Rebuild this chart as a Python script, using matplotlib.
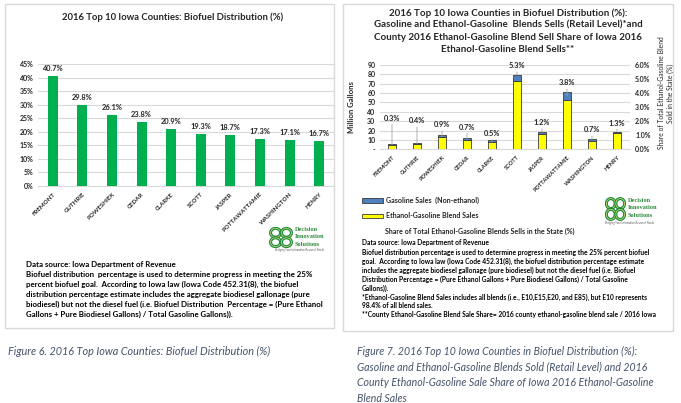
import matplotlib
matplotlib.use('Agg')
import matplotlib.pyplot as plt
from matplotlib.patches import Rectangle, Circle
import numpy as np

W, H = 681, 403

# ---------------- data ----------------
counties = ["FREMONT", "GUTHRIE", "POWESHIEK", "CEDAR", "CLARKE", "SCOTT",
            "JASPER", "POTTAWATTAMIE", "WASHINGTON", "HENRY"]
biofuel_pct = [40.7, 29.8, 26.1, 23.8, 20.9, 19.3, 18.7, 17.3, 17.1, 16.7]
left_yticks = [0, 5, 10, 15, 20, 25, 30, 35, 40, 45]

blend_sales = [4.4, 5.4, 13.0, 9.6, 7.3, 73.2, 16.3, 52.5, 9.3, 16.9]      # million gallons
gasoline_sales = [1.1, 1.0, 1.9, 2.5, 2.2, 6.4, 2.5, 8.7, 2.0, 1.9]       # million gallons
blend_share = [0.3, 0.4, 0.9, 0.7, 0.5, 5.3, 1.2, 3.8, 0.7, 1.3]           # percent
gal_ticks = [0, 10, 20, 30, 40, 50, 60, 70, 80, 90]
gal_ticklabels = ["-", "10", "20", "30", "40", "50", "60", "70", "80", "90"]
share_ticks = [0, 1, 2, 3, 4, 5, 6]

# layout: label offsets (pixels above the share point)
share_label_offset = [27, 23, 12, 12, 9, 9, 10, 13, 9.5, 8]

FONT = 'Lato'
TXT = '#262626'
plt.rcParams['font.family'] = [FONT, 'DejaVu Sans']


def fx(x):
    return x / W


def fy(y):
    return 1 - y / H


fig = plt.figure(figsize=(W / 100, H / 100), dpi=100)

# panel borders
for (x0, y0, x1, y1) in [(5, 4, 334, 328), (343, 4, 673, 331)]:
    fig.patches.append(Rectangle((fx(x0), fy(y1)), (x1 - x0) / W, (y1 - y0) / H,
                                 transform=fig.transFigure, fill=False,
                                 ec='#d9d9d9', lw=1.0))

# ---------------- left chart ----------------
ax1 = fig.add_axes([fx(38), fy(186), 296 / W, 121.7 / H])
x = np.arange(len(counties))
ax1.bar(x, biofuel_pct, width=0.34, color='#00b050', zorder=3)
ax1.set_xlim(-0.5, len(counties) - 0.5)
ax1.set_ylim(0, 45)
ax1.set_yticks(left_yticks)
ax1.set_yticklabels([f"{v}%" for v in left_yticks], fontsize=5, fontweight='bold', color=TXT)
ax1.yaxis.grid(True, color='#d9d9d9', lw=0.8, zorder=0)
ax1.set_axisbelow(True)
for s in ['top', 'right', 'left']:
    ax1.spines[s].set_visible(False)
ax1.spines['bottom'].set_color('#d9d9d9')
ax1.tick_params(length=0, pad=3)
ax1.set_xticks(x)
ax1.set_xticklabels(counties, rotation=45, ha='right', rotation_mode='anchor',
                    fontsize=4.4, fontweight='bold', color=TXT)
ax1.tick_params(axis='x', pad=4)
for i, v in enumerate(biofuel_pct):
    ax1.annotate(f"{v}%", (i, v), xytext=(0, 7.6), textcoords='offset pixels',
                 ha='center', va='center', fontsize=5.4, fontweight='bold', color=TXT)
fig.text(fx(172.5), fy(17), "2016 Top 10 Iowa Counties: Biofuel Distribution (%)",
         ha='center', va='center', fontsize=6.8, fontweight='bold', color=TXT)

left_notes = [
    "Data source: Iowa Department of Revenue",
    "Biofuel distribution  percentage is used to determine progress in meeting the 25%",
    "percent biofuel goal.  According to Iowa law (Iowa Code 452.31(8), the biofuel",
    "distribution percentage estimate includes the aggregate biodiesel gallonage (pure",
    "biodiesel) but not the diesel fuel (i.e. Biofuel Distribution  Percentage = (Pure Ethanol",
    "Gallons + Pure Biodiesel Gallons) / Total Gasoline Gallons)).",
]
for k, line in enumerate(left_notes):
    fig.text(fx(26), fy(264 + 10 * k), line, ha='left', va='center',
             fontsize=5.65, fontweight='bold', color='#000000')

# ---------------- right chart ----------------
ax2 = fig.add_axes([fx(379.5), fy(149.3), 250 / W, 84.3 / H])
ax2.bar(x, blend_sales, width=0.33, color='#ffff00', edgecolor='#3a3a3a', lw=0.6, zorder=3)
ax2.bar(x, gasoline_sales, bottom=blend_sales, width=0.33, color='#4f81bd',
        edgecolor='#3a3a3a', lw=0.6, zorder=3)
ax2.set_xlim(-0.5, len(counties) - 0.5)
ax2.set_ylim(0, 90)
ax2.set_yticks(gal_ticks)
ax2.set_yticklabels(gal_ticklabels, fontsize=5, fontweight='bold', color=TXT)
ax2.yaxis.grid(True, color='#d9d9d9', lw=0.8, zorder=0)
ax2.set_axisbelow(True)
for s in ['top', 'right', 'left']:
    ax2.spines[s].set_visible(False)
ax2.spines['bottom'].set_color('#d9d9d9')
ax2.tick_params(length=0, pad=3)
ax2.set_xticks(x)
ax2.set_xticklabels(counties, rotation=45, ha='right', rotation_mode='anchor',
                    fontsize=4.1, fontweight='bold', color=TXT)
ax2.tick_params(axis='x', pad=4)

ax3 = ax2.twinx()
ax3.set_ylim(0, 6)
ax3.set_yticks(share_ticks)
ax3.set_yticklabels([f"{v:.1f}%" for v in share_ticks], fontsize=5, fontweight='bold', color=TXT)
for s in ['top', 'right', 'left', 'bottom']:
    ax3.spines[s].set_visible(False)
ax3.tick_params(length=0, pad=4)
ax3.plot(x, blend_share, linestyle='none')
for i, v in enumerate(blend_share):
    ax3.annotate(f"{v}%", (i, v), xytext=(0, share_label_offset[i]), textcoords='offset pixels',
                 ha='center', va='center', fontsize=5.3, fontweight='bold', color=TXT,
                 arrowprops=dict(arrowstyle='-', color='#a6a6a6', lw=0.6,
                                 shrinkA=0, shrinkB=0))

fig.text(fx(352), fy(107), "Million Gallons", rotation=90, ha='center', va='center',
         fontsize=5.6, fontweight='bold', color=TXT)
fig.text(fx(666), fy(93), "Share of Total Ethanol-Gasoline Blend\nSold in the State (%)",
         rotation=90, ha='center', va='center', fontsize=4.9, color=TXT, linespacing=1.25)

right_title = ["2016 Top 10 Iowa Counties in Biofuel Distribution (%):",
               "Gasoline and Ethanol-Gasoline  Blends Sells (Retail Level)*and",
               "County 2016 Ethanol-Gasoline Blend Sell Share of Iowa 2016",
               "Ethanol-Gasoline Blend Sells**"]
for k, line in enumerate(right_title):
    fig.text(fx(508), fy(13 + 12.2 * k), line, ha='center', va='center',
             fontsize=7, fontweight='bold', color=TXT)

# legend
for (yc, col, lab) in [(200.7, '#4f81bd', "Gasoline Sales  (Non-ethanol)"),
                       (215.7, '#ffff00', "Ethanol-Gasoline Blend Sales")]:
    fig.patches.append(Rectangle((fx(362), fy(yc + 2.2)), 21 / W, 4.4 / H,
                                 transform=fig.transFigure, fc=col, ec='#3a3a3a', lw=0.6))
    fig.text(fx(385.5), fy(yc), lab, ha='left', va='center', fontsize=5.1,
             fontweight='bold', color=TXT)
fig.text(fx(385), fy(231), "Share of Total Ethanol-Gasoline Blends Sells in the State (%)",
         ha='left', va='center', fontsize=5.1, fontweight='bold', color=TXT)

right_notes = [
    "Data source: Iowa Department of Revenue",
    "Biofuel distribution percentage is used to determine progress in meeting the 25% percent biofuel",
    "goal.  According to Iowa law (Iowa Code 452.31(8), the biofuel distribution percentage estimate",
    "includes the aggregate biodiesel gallonage (pure biodiesel) but not the diesel fuel (i.e. Biofuel",
    "Distribution Percentage = (Pure Ethanol Gallons + Pure Biodiesel Gallons) / Total Gasoline",
    "Gallons)).",
    "*Ethanol-Gasoline Blend Sales includes all blends (i.e., E10,E15,E20, and E85), but E10 represents",
    "98.4% of all blend sales.",
    "**County Ethanol-Gasoline Blend Sale Share= 2016 county ethanol-gasoline blend sale / 2016 Iowa",
]
for k, line in enumerate(right_notes):
    fig.text(fx(362), fy(243 + 9 * k), line, ha='left', va='center',
             fontsize=4.75, fontweight='bold', color='#000000')


# ---------------- logos ----------------
def logo(kx0, ky0, kx1, ky1, tx, ty0, dy, fs, tag_y, tag_x):
    lax = fig.add_axes([fx(kx0), fy(ky1), (kx1 - kx0) / W, (ky1 - ky0) / H])
    lax.set_xlim(-1, 1)
    lax.set_ylim(-1, 1)
    lax.axis('off')
    for (cx, cy) in [(-0.45, 0.45), (0.45, 0.45), (-0.45, -0.45), (0.45, -0.45)]:
        lax.add_patch(Circle((cx, cy), 0.42, fc='none', ec='#1e8a3c', lw=2.2))
        lax.add_patch(Circle((cx, cy), 0.42, fc='none', ec='#d8e27a', lw=0.5))
    for k, w in enumerate(["Decision", "Innovation", "Solutions"]):
        fig.text(fx(tx), fy(ty0 + dy * k), w, ha='left', va='center', fontsize=fs,
                 fontweight='bold', family='Liberation Serif', color='#2e8b3e')
    fig.text(fx(tag_x), fy(tag_y), "Bridging Your Information Research Needs",
             ha='center', va='center', fontsize=2.0, style='italic', color='#555555')


logo(269, 227, 293, 248, 295, 230, 7, 4.6, 250, 300)
logo(605, 197, 626, 221, 628, 200.5, 7.3, 4.6, 222.5, 630)

# ---------------- captions ----------------
CAP = '#44546a'
fig.text(fx(8), fy(351), "Figure 6. 2016 Top Iowa Counties: Biofuel Distribution (%)",
         ha='left', va='center', fontsize=7.8, style='italic', color=CAP)
cap7 = ["Figure 7. 2016 Top 10 Iowa Counties in Biofuel Distribution (%):",
        "Gasoline and Ethanol-Gasoline Blends Sold (Retail Level) and 2016",
        "County Ethanol-Gasoline Sale Share of Iowa 2016 Ethanol-Gasoline",
        "Blend Sales"]
for k, line in enumerate(cap7):
    fig.text(fx(357), fy(351 + 15.7 * k), line, ha='left', va='center',
             fontsize=7.6, style='italic', color=CAP)

fig.savefig('out.png', dpi=100)
